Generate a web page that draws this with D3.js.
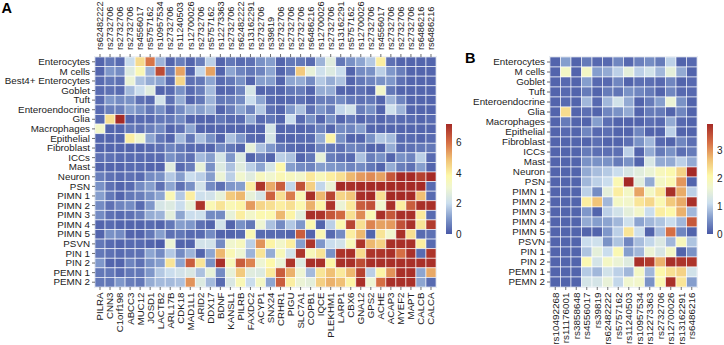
<!DOCTYPE html>
<html>
<head>
<meta charset="utf-8">
<title>Heatmaps</title>
<script src="https://cdn.jsdelivr.net/npm/d3@7"></script>
<style>
  html, body { margin: 0; padding: 0; background: #fff; }
  svg { display: block; }
  text { font-family: "Liberation Sans", Arial, sans-serif; fill: #222; }
</style>
</head>
<body>
<svg id="chart" width="724" height="345"></svg>
<script>
const cellTypesA = ['Enterocytes', 'M cells', 'Best4+ Enterocytes', 'Goblet', 'Tuft', 'Enteroendocrine',
  'Glia', 'Macrophages', 'Epithelial', 'Fibroblast', 'ICCs', 'Mast', 'Neuron', 'PSN', 'PIMN 1', 'PIMN 2',
  'PIMN 3', 'PIMN 4', 'PIMN 5', 'PSVN', 'PIN 1', 'PIN 2', 'PEMN 1', 'PEMN 2'];
const cellTypesB = cellTypesA.filter((d) => d !== 'Best4+ Enterocytes');

const snpsA = ['rs62482222', 'rs2732706', 'rs2732706', 'rs2732706', 'rs4556017', 'rs5757162', 'rs10957534',
  'rs2732706', 'rs11240503', 'rs12700026', 'rs2732706', 'rs5757162', 'rs12273363', 'rs2732706', 'rs62482222',
  'rs13162291', 'rs2732706', 'rs39819', 'rs2732706', 'rs2732706', 'rs2732706', 'rs6486216', 'rs12700026',
  'rs2732706', 'rs13162291', 'rs5757162', 'rs12700026', 'rs2732706', 'rs4556017', 'rs2732706', 'rs2732706',
  'rs2732706', 'rs6486216', 'rs6486216'];
const genesA = ['PILRA', 'CNN3', 'C1orf198', 'ABCC3', 'MUC12', 'JOSD1', 'LACTB2', 'ARL17B', 'CDK18', 'MAD1L1',
  'ARID2', 'DDX17', 'BDNF', 'KANSL1', 'PILRB', 'FAXDC2', 'ACYP1', 'SNX24', 'CRHR1', 'PIGU', 'SLC7A1', 'COPB1',
  'IQCE', 'PLEKHM1', 'LARP1', 'CBX6', 'GNA12', 'GPS2', 'ACHE', 'ACAP3', 'MYEF2', 'MAPT', 'CALCB', 'CALCA'];
const snpsB = ['rs10492268', 'rs11176001', 'rs3858648', 'rs4556017', 'rs39819', 'rs62482222', 'rs5757162',
  'rs11240503', 'rs10957534', 'rs12273363', 'rs2732706', 'rs12700026', 'rs13162291', 'rs6486216'];

const valuesA = [
  [.2, .5, .3, 2.0, 4.4, 5.9, 1.4, .2, .6, .2, .6, 1.8, .2, .5, .3, .4, .9, 1.1, .2, .5, .5, .3, 1.4, 2.6, .5, .9, 1.2, 1.7, 4.0, .4, .2, .2, .2, .2],
  [.2, 1.0, .8, 2.5, 3.6, 1.4, 6.6, .6, 5.3, .2, 1.9, 5.3, .2, 1.2, .7, .5, .7, 1.2, .2, .6, 4.7, 2.8, 2.1, 2.5, 2.0, .2, .8, .9, 1.8, 1.0, .6, .2, .2, .2],
  [.3, .5, .4, 2.9, 1.6, 1.3, 1.2, .3, 4.5, .4, .5, 1.2, .3, .5, .9, .2, 1.1, 1.1, .2, 1.2, 1.3, .8, 1.7, 1.3, 1.6, .2, .5, .7, .9, 1.0, .4, .2, .2, .2],
  [.3, .4, .3, 1.5, 2.0, 2.6, .2, .3, .9, .3, .6, 1.5, .2, .3, .7, 2.3, .2, .3, .2, .5, .6, .2, 1.3, 1.3, .2, .2, .4, .2, 3.2, .5, .2, .2, .2, .2],
  [.3, 1.0, .8, .9, .4, .3, 2.2, .4, 1.3, .2, .5, 1.4, .5, .6, .8, 2.0, 1.2, .3, .2, .3, .4, .2, .6, .6, .8, .5, .4, .5, .2, 1.4, .7, .2, .2, .2],
  [.3, .6, .6, 1.1, .9, .5, .9, .3, .8, 1.3, 1.1, 1.4, .2, .6, 1.2, .7, 1.7, .4, .2, 1.0, 1.6, .4, 1.0, .6, 1.9, 2.2, .6, .9, .2, 2.1, 1.4, .2, .2, .2],
  [.3, 4.3, 7.2, .2, .3, .3, .5, .5, .8, .2, .2, .2, .5, .3, .3, 1.3, .3, .5, .2, 2.0, .3, .9, .2, .9, .2, .5, .2, .4, .2, .4, .3, .3, .2, .3],
  [3.2, .2, .2, .5, .4, .6, .8, .2, .4, 1.2, .2, .2, .2, .2, .2, .2, .2, 2.3, .2, .3, .2, .3, .7, .2, .8, .7, 1.1, .2, .2, .2, .2, .2, .2, .2],
  [.2, .2, .2, 4.0, 3.1, 1.2, .5, .2, 1.5, .5, 1.6, .9, .2, 1.6, 1.0, .3, .2, 2.3, .2, .2, .3, .3, 1.3, 3.9, .9, .2, .2, .9, 1.7, 1.5, .3, .3, .2, .3],
  [.2, .2, .2, .2, .2, .3, .4, .7, .5, .3, .3, .2, .8, .5, .2, 2.8, 1.6, 1.0, .5, .3, .2, .2, .7, .5, .4, .7, .6, .2, .2, 1.3, .3, .4, .5, .5],
  [.4, .4, .3, .3, .3, .3, .3, .9, .6, .4, 1.5, 1.1, 2.3, 1.0, 2.5, .2, .6, .2, 1.8, 1.6, .2, .5, 2.8, .6, .4, .3, 1.6, .6, .9, .2, .9, .7, 1.8, .3],
  [.2, .2, .2, .3, .3, .2, .2, 2.6, .3, .6, 2.8, .9, 2.5, 1.6, 2.6, 1.8, 1.2, 2.3, 3.8, 1.1, .8, .7, 1.1, 1.0, .9, .7, .8, .5, .2, 1.3, .6, .4, 1.1, .2],
  [.6, .4, .3, .4, .3, .8, .9, 1.7, 1.1, 2.0, 1.8, 1.1, 2.9, 1.8, 3.1, 2.6, 3.4, 3.1, 3.6, 3.4, 3.2, 4.1, 3.5, 4.0, 4.3, 5.0, 5.4, 5.6, 5.3, 6.4, 7.2, 7.2, 6.8, 7.2],
  [.9, .4, .2, .3, .8, 1.1, .4, 1.2, .4, .9, 2.2, .8, .4, 1.0, 1.1, 4.0, 7.0, 5.2, 6.3, 1.9, 6.5, 4.6, 1.9, 2.9, 7.2, 7.1, 7.2, 7.2, 7.2, 7.2, 7.2, 7.2, 7.2, .3],
  [1.1, .5, .2, .5, .6, .9, 1.2, 3.6, 1.7, 4.0, 2.1, 2.2, 2.8, 4.7, 5.0, 2.8, 2.3, 6.2, 4.3, 5.8, 3.6, 7.1, 5.0, 6.7, 4.5, 4.8, 7.1, 7.2, 4.3, 7.2, 7.2, 7.2, 4.9, .3],
  [.8, .4, .7, .8, .3, 1.0, 2.3, 2.5, 2.0, 2.8, 7.0, 3.6, 4.2, 3.6, 3.9, 5.4, 4.5, 4.3, 4.0, 4.3, 3.7, 5.1, 3.9, 7.0, 2.9, 4.1, 6.3, 6.5, 3.1, 7.1, 4.0, 6.3, 7.1, 7.1],
  [.8, .4, .3, .4, .6, 1.3, 1.4, 2.7, 1.2, 2.0, 2.1, .8, .8, 2.8, 4.0, 3.2, 3.7, 3.7, 5.0, 3.9, 2.7, 7.1, 7.0, 6.4, 6.1, 4.3, 5.6, 3.6, 7.1, 6.4, 7.1, 7.1, 4.1, .3],
  [.2, .3, .2, .2, .2, .3, .2, .5, 1.1, 1.0, .4, .2, 2.2, .2, .9, .5, 3.0, 1.6, .8, 1.7, 1.0, 3.7, .2, 1.8, 3.7, 6.7, 4.3, 5.7, 5.3, 5.4, 6.5, 7.1, 4.2, 6.9],
  [.2, .9, .8, .2, .2, .5, 1.1, .4, .5, .3, .3, .8, .2, .2, .3, 3.6, .3, .3, .3, .2, 6.3, .2, 3.6, .3, .8, 4.0, 5.0, .2, 4.2, 3.1, 7.1, 4.3, .3, .4],
  [.5, .3, .2, .3, .3, .2, .1, 2.9, .2, .2, 2.2, 2.2, .8, 3.1, 3.4, 1.8, 5.5, 3.9, 3.2, 4.0, 1.1, 7.0, 1.0, 2.0, 2.2, 3.5, 7.0, 5.0, 4.6, 7.1, 7.1, 7.1, 4.0, .3],
  [.5, .4, .3, .4, .4, 1.2, .8, 1.7, .8, 1.4, .2, 1.2, 5.0, 3.6, 3.0, 1.4, 4.2, 1.3, 3.5, 2.2, 7.0, 3.5, 4.2, .9, 7.0, 7.1, 4.4, 7.0, 7.0, 7.1, 6.0, 7.1, .3, 7.0],
  [1.0, .2, .2, .7, .4, .9, 1.1, 4.2, 1.2, 6.3, 4.2, .9, 7.1, 3.5, 6.3, 5.7, 3.0, 3.8, 2.9, 7.0, 2.5, 7.1, 7.1, 3.9, 7.1, 7.1, 6.6, 7.1, 7.1, 7.1, 7.1, 7.1, 7.1, 7.1],
  [.5, .5, .3, .5, .5, 1.0, 1.7, 2.0, 2.2, 2.4, 1.6, 2.8, .8, 2.8, 4.7, 2.6, 2.5, 4.1, 6.3, 5.1, 3.0, 1.5, 4.2, 4.9, 4.1, 5.0, 6.8, 1.8, 3.9, 5.5, 7.1, 7.1, 1.2, 5.2],
  [.5, .5, 1.0, .6, .5, 1.3, 1.5, 1.5, 1.6, 5.5, 2.5, 1.5, .3, 2.4, 3.6, 2.0, 3.3, 1.2, 6.3, 4.0, 2.9, 2.7, 4.6, 5.1, 4.9, 3.9, 7.1, 3.0, 6.0, 7.1, 7.1, 7.1, 1.2, .3],
];

const valuesB = [
  [.1, .6, .1, .3, .15, .15, .4, .15, .35, .45, .3, 1.0, .1, .15],
  [.1, 1.8, .1, 1.8, .6, .7, 1.0, 1.5, 1.0, 1.2, .8, 1.5, .7, .1],
  [.1, .15, .1, .6, .15, .15, .4, .1, .2, .2, .15, .4, .1, .15],
  [.1, .15, .1, .3, .1, .3, .25, .5, .4, .3, .1, .4, .15, .15],
  [.1, .15, .1, .8, .15, .8, 1.2, .7, .1, .3, .6, 1.6, .5, .1],
  [.1, 2.4, .1, .2, .1, .4, .5, .7, .1, .3, .3, .1, .4, .1],
  [.1, .3, .1, .1, .6, .2, .1, .1, .1, .2, .15, .7, .15, .1],
  [.1, .15, .1, .4, .15, .2, .1, .1, .4, .1, .1, 1.0, .1, .1],
  [.1, .1, .1, .1, .2, .1, .1, .2, .5, .8, .15, .1, .4, .2],
  [.1, .1, .1, .3, .2, .2, .2, 1.0, .1, .7, .3, .5, .2, .3],
  [.1, .1, .1, .5, .5, .5, .3, .5, .1, 1.3, .7, .7, 1.0, .7],
  [.1, .1, .1, .7, .85, .95, 1.1, 1.3, 1.45, 1.6, 1.9, 2.05, 2.5, 3.96],
  [.1, .1, .1, .8, 1.0, 1.1, 2.0, 3.96, 1.45, .7, 1.8, 2.0, 3.0, .1],
  [.1, .1, .1, 1.0, .45, 1.5, 2.2, 1.8, 2.9, 1.8, 2.3, 3.9, 2.85, 1.0],
  [.1, .1, .1, 2.2, 2.65, .8, 1.8, 1.75, 2.3, 2.45, 2.0, 2.6, 2.85, 3.9],
  [.1, .1, .1, .55, .1, 1.0, 1.2, 1.5, 1.75, 1.1, 2.2, 2.1, 2.8, .8],
  [.1, .1, .1, .7, .6, .65, .8, 1.15, .65, .8, .9, 1.1, .8, 3.5],
  [.1, .1, .1, .1, .1, .55, 1.0, 2.3, 1.15, .1, .85, 3.3, .4, .1],
  [.1, .1, .1, 1.1, 1.15, .5, .9, .4, .85, 1.05, 1.35, .8, 1.9, .9],
  [.1, .1, .1, .9, 1.5, 1.1, 2.0, .6, .8, 1.6, 1.3, 1.8, .1, .5],
  [.1, .1, .1, 2.0, 1.25, 1.8, 1.6, 1.4, 3.9, 3.8, 2.8, 3.9, 3.85, 3.85],
  [.1, .1, .1, .95, .8, 1.2, 1.0, .8, 1.8, .8, 2.1, 2.35, 2.5, 1.2],
  [.1, .1, .1, 1.25, 1.25, 1.55, 1.05, 1.7, 1.75, .5, 2.0, 3.9, 2.3, .6],
];

const legendTicksA = [0, 2, 4, 6];
const legendTicksB = [0, 1, 2, 3];
const maxA = 7.2;
const maxB = 3.96;

// color ramp, position is a fraction of the scale maximum
const rampStops = [0, .14, .28, .42, .53, .68, .83, 1];
const rampColors = ['#4858a6', '#7f98ca', '#cbdeee', '#eff6d2', '#fdf8aa', '#f0c074', '#d66f45', '#a52a26'];

const svg = d3.select('#chart');

const drawHeatmap = (cfg) => {
  const x = d3.scaleBand().domain(d3.range(cfg.values[0].length)).range([cfg.left, cfg.right]);
  const y = d3.scaleBand().domain(cfg.rows).range([cfg.top, cfg.bottom]);
  const color = d3.scaleLinear()
      .domain(rampStops.map((d) => d * cfg.max))
      .range(rampColors)
      .clamp(true);

  const g = svg.append('g');
  g.append('rect')
      .attr('x', cfg.left - 1)
      .attr('y', cfg.top - 1)
      .attr('width', cfg.right - cfg.left + 2)
      .attr('height', cfg.bottom - cfg.top + 2)
      .attr('fill', '#e4e9f0');

  cfg.values.forEach((row, i) => {
    g.append('g').selectAll('rect')
        .data(row)
        .join('rect')
        .attr('x', (d, j) => x(j))
        .attr('y', y(cfg.rows[i]))
        .attr('width', x.bandwidth())
        .attr('height', y.bandwidth())
        .attr('fill', (d) => color(d))
        .attr('stroke', '#fff')
        .attr('stroke-opacity', 0.75)
        .attr('stroke-width', 0.8);
  });

  const styleAxis = (sel) => {
    sel.select('.domain').remove();
    sel.selectAll('.tick line').attr('stroke', '#333').attr('stroke-width', 0.7);
  };

  g.append('g')
      .attr('transform', `translate(${cfg.left},0)`)
      .call(d3.axisLeft(y).tickSize(3).tickPadding(2))
      .call(styleAxis)
      .selectAll('text')
      .attr('font-size', 9.8);

  if (cfg.topLabels) {
    const axisTop = d3.axisTop(x).tickSize(3).tickPadding(1.5)
        .tickFormat((d) => cfg.topLabels[d]);
    g.append('g')
        .attr('transform', `translate(0,${cfg.top})`)
        .call(axisTop)
        .call(styleAxis)
        .selectAll('text')
        .attr('font-size', 9.2)
        .attr('text-anchor', 'start')
        .attr('transform', 'rotate(-90)')
        .attr('x', 7)
        .attr('y', 0)
        .attr('dy', '0.35em');
  }

  const axisBottom = d3.axisBottom(x).tickSize(3).tickPadding(1.5)
      .tickFormat((d) => cfg.bottomLabels[d]);
  g.append('g')
      .attr('transform', `translate(0,${cfg.bottom})`)
      .call(axisBottom)
      .call(styleAxis)
      .selectAll('text')
      .attr('font-size', cfg.bottomFont)
      .attr('text-anchor', 'end')
      .attr('transform', 'rotate(-90)')
      .attr('x', -5.5)
      .attr('y', 0)
      .attr('dy', '0.35em');

  // colorbar
  const legendScale = d3.scaleLinear().domain([0, cfg.max]).range([cfg.legendBottom, cfg.legendTop]);
  const gradId = `grad-${cfg.name}`;
  const grad = svg.append('defs').append('linearGradient')
      .attr('id', gradId)
      .attr('x1', 0).attr('x2', 0)
      .attr('y1', 1).attr('y2', 0);
  grad.selectAll('stop')
      .data(rampStops)
      .join('stop')
      .attr('offset', (d) => d)
      .attr('stop-color', (d, i) => rampColors[i]);
  g.append('rect')
      .attr('x', cfg.legendX)
      .attr('y', cfg.legendTop)
      .attr('width', 6)
      .attr('height', cfg.legendBottom - cfg.legendTop)
      .attr('fill', `url(#${gradId})`);
  g.append('g')
      .attr('transform', `translate(${cfg.legendX + 6},0)`)
      .call(d3.axisRight(legendScale)
          .tickValues(cfg.legendTicks)
          .tickFormat(d3.format('d'))
          .tickSize(0)
          .tickPadding(4))
      .call(styleAxis)
      .selectAll('text')
      .attr('font-size', 10);

  svg.append('text')
      .attr('x', cfg.letterX)
      .attr('y', cfg.letterY)
      .attr('font-size', 14.5)
      .attr('font-weight', 'bold')
      .style('fill', '#000')
      .text(cfg.name);
};

drawHeatmap({
  name: 'A', values: valuesA, rows: cellTypesA, topLabels: snpsA, bottomLabels: genesA,
  left: 95, right: 436, top: 57, bottom: 287, max: maxA, bottomFont: 9.7,
  legendX: 446, legendTop: 124, legendBottom: 234, legendTicks: legendTicksA,
  letterX: 1.5, letterY: 13,
});

drawHeatmap({
  name: 'B', values: valuesB, rows: cellTypesB, topLabels: null, bottomLabels: snpsB,
  left: 550, right: 697, top: 57, bottom: 287, max: maxB, bottomFont: 9.9,
  legendX: 707, legendTop: 124, legendBottom: 234, legendTicks: legendTicksB,
  letterX: 465, letterY: 63,
});
</script>
</body>
</html>
